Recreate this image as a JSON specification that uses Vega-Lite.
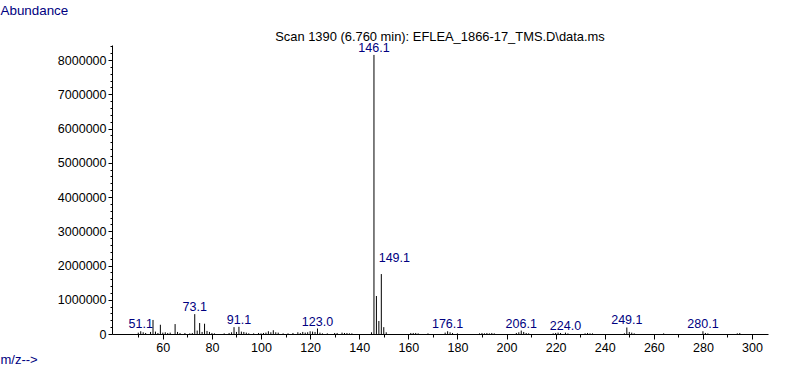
{
  "$schema": "https://vega.github.io/schema/vega-lite/v6.json",
  "width": 656,
  "height": 289,
  "autosize": {"type": "none"},
  "padding": {"left": 112, "top": 45, "right": 19, "bottom": 51},
  "background": "white",
  "config": {"view": {"stroke": null}, "font": "Liberation Sans"},
  "title": {"text": "Scan 1390 (6.760 min): EFLEA_1866-17_TMS.D\\data.ms", "fontSize": 12.9, "fontWeight": "normal", "color": "black", "anchor": "middle", "offset": 2, "dy": 43, "font": "Liberation Sans"},
  "datasets": {
    "peaks": [
      {"mz": 50, "abundance": 40000}, {"mz": 51, "abundance": 80000}, {"mz": 52, "abundance": 50000}, {"mz": 53, "abundance": 30000},
      {"mz": 55, "abundance": 60000}, {"mz": 56, "abundance": 410000}, {"mz": 57, "abundance": 70000}, {"mz": 58, "abundance": 30000},
      {"mz": 59, "abundance": 270000}, {"mz": 60, "abundance": 40000}, {"mz": 61, "abundance": 50000}, {"mz": 62, "abundance": 30000},
      {"mz": 63, "abundance": 40000}, {"mz": 65, "abundance": 290000}, {"mz": 66, "abundance": 60000}, {"mz": 67, "abundance": 30000},
      {"mz": 69, "abundance": 30000}, {"mz": 71, "abundance": 20000}, {"mz": 72, "abundance": 30000}, {"mz": 73, "abundance": 580000},
      {"mz": 74, "abundance": 100000}, {"mz": 75, "abundance": 320000}, {"mz": 76, "abundance": 60000}, {"mz": 77, "abundance": 300000},
      {"mz": 78, "abundance": 90000}, {"mz": 79, "abundance": 60000}, {"mz": 80, "abundance": 30000}, {"mz": 81, "abundance": 20000},
      {"mz": 85, "abundance": 20000}, {"mz": 87, "abundance": 30000}, {"mz": 88, "abundance": 50000}, {"mz": 89, "abundance": 200000},
      {"mz": 90, "abundance": 60000}, {"mz": 91, "abundance": 210000}, {"mz": 92, "abundance": 70000}, {"mz": 93, "abundance": 60000},
      {"mz": 94, "abundance": 40000}, {"mz": 95, "abundance": 20000}, {"mz": 97, "abundance": 20000}, {"mz": 99, "abundance": 30000},
      {"mz": 100, "abundance": 20000}, {"mz": 101, "abundance": 30000}, {"mz": 102, "abundance": 40000}, {"mz": 103, "abundance": 80000},
      {"mz": 104, "abundance": 50000}, {"mz": 105, "abundance": 110000}, {"mz": 106, "abundance": 50000}, {"mz": 107, "abundance": 40000},
      {"mz": 109, "abundance": 20000}, {"mz": 111, "abundance": 20000}, {"mz": 113, "abundance": 30000}, {"mz": 115, "abundance": 50000},
      {"mz": 116, "abundance": 30000}, {"mz": 117, "abundance": 60000}, {"mz": 118, "abundance": 40000}, {"mz": 119, "abundance": 50000},
      {"mz": 120, "abundance": 80000}, {"mz": 121, "abundance": 70000}, {"mz": 122, "abundance": 60000}, {"mz": 123, "abundance": 160000},
      {"mz": 124, "abundance": 40000}, {"mz": 125, "abundance": 20000}, {"mz": 127, "abundance": 20000}, {"mz": 130, "abundance": 30000},
      {"mz": 131, "abundance": 30000}, {"mz": 133, "abundance": 40000}, {"mz": 134, "abundance": 30000}, {"mz": 135, "abundance": 30000},
      {"mz": 136, "abundance": 20000}, {"mz": 137, "abundance": 20000}, {"mz": 145, "abundance": 50000}, {"mz": 146, "abundance": 8150000},
      {"mz": 147, "abundance": 1110000}, {"mz": 148, "abundance": 380000}, {"mz": 149, "abundance": 1750000}, {"mz": 150, "abundance": 200000},
      {"mz": 151, "abundance": 50000}, {"mz": 161, "abundance": 30000}, {"mz": 162, "abundance": 30000}, {"mz": 163, "abundance": 30000},
      {"mz": 164, "abundance": 20000}, {"mz": 168, "abundance": 20000}, {"mz": 175, "abundance": 40000}, {"mz": 176, "abundance": 80000},
      {"mz": 177, "abundance": 50000}, {"mz": 178, "abundance": 30000}, {"mz": 180, "abundance": 20000}, {"mz": 189, "abundance": 20000},
      {"mz": 190, "abundance": 30000}, {"mz": 191, "abundance": 20000}, {"mz": 192, "abundance": 30000}, {"mz": 193, "abundance": 20000},
      {"mz": 194, "abundance": 30000}, {"mz": 195, "abundance": 20000}, {"mz": 204, "abundance": 30000}, {"mz": 205, "abundance": 50000},
      {"mz": 206, "abundance": 100000}, {"mz": 207, "abundance": 60000}, {"mz": 208, "abundance": 30000}, {"mz": 209, "abundance": 20000},
      {"mz": 219, "abundance": 20000}, {"mz": 220, "abundance": 30000}, {"mz": 221, "abundance": 40000}, {"mz": 222, "abundance": 30000},
      {"mz": 224, "abundance": 40000}, {"mz": 225, "abundance": 20000}, {"mz": 232, "abundance": 20000}, {"mz": 233, "abundance": 30000},
      {"mz": 234, "abundance": 20000}, {"mz": 235, "abundance": 20000}, {"mz": 248, "abundance": 20000}, {"mz": 249, "abundance": 190000},
      {"mz": 250, "abundance": 60000}, {"mz": 251, "abundance": 40000}, {"mz": 252, "abundance": 20000}, {"mz": 264, "abundance": 20000},
      {"mz": 280, "abundance": 80000}, {"mz": 281, "abundance": 30000}, {"mz": 282, "abundance": 20000}, {"mz": 294, "abundance": 20000},
      {"mz": 295, "abundance": 30000}
    ],
    "labels": [
      {"mz": 51, "abundance": 80000, "label": "51.1"},
      {"mz": 73, "abundance": 580000, "label": "73.1"},
      {"mz": 91, "abundance": 210000, "label": "91.1"},
      {"mz": 123, "abundance": 160000, "label": "123.0"},
      {"mz": 146, "abundance": 8150000, "label": "146.1"},
      {"mz": 176, "abundance": 80000, "label": "176.1"},
      {"mz": 206, "abundance": 100000, "label": "206.1"},
      {"mz": 224, "abundance": 40000, "label": "224.0"},
      {"mz": 249, "abundance": 190000, "label": "249.1"},
      {"mz": 280, "abundance": 80000, "label": "280.1"}
    ],
    "shifted": [
      {"mz": 149, "abundance": 1750000, "label": "149.1"}
    ]
  },
  "resolve": {"axis": {"x": "independent", "y": "independent"}},
  "layer": [
    {
      "data": {"name": "peaks"},
      "mark": {"type": "rule", "color": "black", "strokeWidth": 1},
      "encoding": {
        "x": {"field": "mz", "type": "quantitative",
          "scale": {"domain": [39.3, 306.5], "nice": false, "zero": false},
          "axis": {"orient": "bottom", "values": [60, 80, 100, 120, 140, 160, 180, 200, 220, 240, 260, 280, 300], "grid": false,
            "labelFontSize": 12.5, "labelColor": "black", "labelPadding": 2, "tickSize": 5, "tickColor": "black", "domainColor": "black",
            "labelFont": "Liberation Sans", "labelOverlap": false,
            "title": "m/z-->", "titleX": -112, "titleY": 29, "titleAlign": "left", "titleBaseline": "alphabetic", "titleAnchor": null,
            "titleFontSize": 13, "titleFontWeight": "normal", "titleColor": "#000080", "titleFont": "Liberation Sans"}},
        "y": {"field": "abundance", "type": "quantitative",
          "scale": {"domain": [0, 8440000], "nice": false},
          "axis": {"orient": "left", "values": [0, 1000000, 2000000, 3000000, 4000000, 5000000, 6000000, 7000000, 8000000], "format": "d", "grid": false,
            "labelFontSize": 12.5, "labelColor": "black", "labelPadding": 2, "tickSize": 4, "tickColor": "black", "domainColor": "black",
            "labelFont": "Liberation Sans", "labelOverlap": false,
            "title": "Abundance", "titleX": -112, "titleY": -42, "titleAngle": 0, "titleAlign": "left", "titleBaseline": "top", "titleAnchor": null,
            "titleFontSize": 13.4, "titleFontWeight": "normal", "titleColor": "#000080", "titleFont": "Liberation Sans"}},
        "y2": {"datum": 0}
      }
    },
    {
      "data": {"name": "peaks"},
      "mark": {"type": "rule", "opacity": 0},
      "encoding": {
        "x": {"field": "mz", "type": "quantitative",
          "axis": {"orient": "bottom", "values": [50, 70, 90, 110, 130, 150, 170, 190, 210, 230, 250, 270, 290], "grid": false,
            "labels": false, "domain": false, "tickSize": 3, "tickColor": "black", "title": null}},
        "y": {"field": "abundance", "type": "quantitative",
          "axis": {"orient": "left", "values": [200000, 400000, 600000, 800000, 1200000, 1400000, 1600000, 1800000, 2200000, 2400000, 2600000, 2800000, 3200000, 3400000, 3600000, 3800000, 4200000, 4400000, 4600000, 4800000, 5200000, 5400000, 5600000, 5800000, 6200000, 6400000, 6600000, 6800000, 7200000, 7400000, 7600000, 7800000, 8200000, 8400000], "grid": false,
            "labels": false, "domain": false, "tickSize": 2, "tickColor": "black", "title": null}}
      }
    },
    {
      "data": {"name": "labels"},
      "mark": {"type": "text", "color": "#000080", "fontSize": 12.5, "font": "Liberation Sans", "baseline": "alphabetic", "align": "center", "dy": -3},
      "encoding": {
        "x": {"field": "mz", "type": "quantitative", "axis": null},
        "y": {"field": "abundance", "type": "quantitative", "axis": null},
        "text": {"field": "label"}
      }
    },
    {
      "data": {"name": "shifted"},
      "mark": {"type": "text", "color": "#000080", "fontSize": 12.5, "font": "Liberation Sans", "baseline": "alphabetic", "align": "center", "dx": 13, "dy": -12},
      "encoding": {
        "x": {"field": "mz", "type": "quantitative", "axis": null},
        "y": {"field": "abundance", "type": "quantitative", "axis": null},
        "text": {"field": "label"}
      }
    }
  ]
}
